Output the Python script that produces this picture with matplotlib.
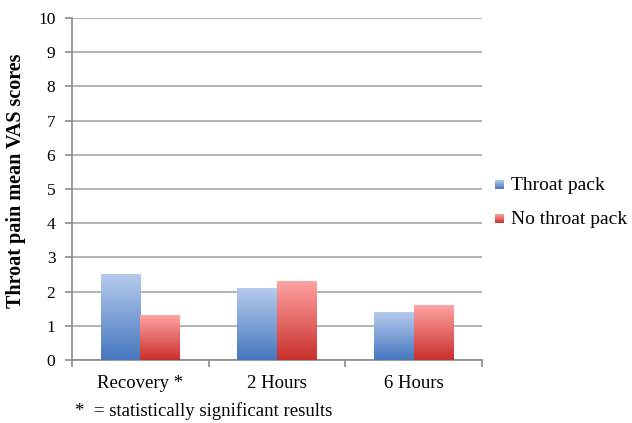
import matplotlib.pyplot as plt
import numpy as np
from matplotlib.colors import LinearSegmentedColormap

categories = ["Recovery *", "2 Hours", "6 Hours"]
throat_pack = [2.5, 2.1, 1.4]
no_throat_pack = [1.3, 2.3, 1.6]
series_labels = ["Throat pack", "No throat pack"]
yticks = list(range(0, 11))
footnote = "*  = statistically significant results"

# gradient (bottom -> top) per series
GRADS = [("#4576be", "#b6cbec"), ("#c8302a", "#ffa3a3")]

plt.rcParams["font.family"] = ["Liberation Serif", "DejaVu Serif"]

fig = plt.figure(figsize=(6.32, 4.23), dpi=100)
ax = fig.add_axes([72 / 632, 1 - 360 / 423, 410 / 632, 342 / 423])

x = np.arange(len(categories))
w = 0.29
grad = np.linspace(0, 1, 256).reshape(-1, 1)
for i, (vals, (c0, c1)) in enumerate(zip([throat_pack, no_throat_pack], GRADS)):
    cmap = LinearSegmentedColormap.from_list(f"g{i}", [c0, c1])
    bars = ax.bar(x + (i - 0.5) * w, vals, w, facecolor="none", edgecolor="none", zorder=3)
    for b in bars:
        x0, y0 = b.get_x(), b.get_y()
        ax.imshow(grad, cmap=cmap, origin="lower", aspect="auto", zorder=3,
                  extent=[x0, x0 + b.get_width(), y0, y0 + b.get_height()])

ax.set_xlim(-0.5, len(categories) - 0.5)
ax.set_ylim(0, 10)
ax.set_yticks(yticks)
ax.yaxis.grid(True, color="#a6a6a6", linewidth=1.2, zorder=0)
ax.set_axisbelow(True)
ax.set_xticks(np.arange(-0.5, len(categories)))
ax.set_xticklabels([])
ax.set_xticks(x, minor=True)
ax.set_xticklabels(categories, minor=True, fontsize=13.5)
ax.tick_params(axis="x", which="minor", length=0, pad=11)
ax.tick_params(axis="x", which="major", length=5, color="#8c8c8c", width=1.2)
ax.tick_params(axis="y", length=5, color="#8c8c8c", width=1.2, labelsize=12.5, pad=7)
for s in ["top", "right"]:
    ax.spines[s].set_visible(False)
for s in ["left", "bottom"]:
    ax.spines[s].set_color("#8c8c8c")
    ax.spines[s].set_linewidth(1.2)

ax.set_ylabel("Throat pain mean VAS scores", fontsize=14.5, fontweight="bold")
ax.yaxis.set_label_coords(-46 / 410, (360 - 181) / 342)

for i, (lab, (c0, c1)) in enumerate(zip(series_labels, GRADS)):
    yy = 1 - (185 + 34 * i) / 423
    lax = fig.add_axes([495 / 632, yy - 4.5 / 423, 9 / 632, 9 / 423])
    lax.imshow(grad, cmap=LinearSegmentedColormap.from_list(f"l{i}", [c0, c1]),
               origin="lower", aspect="auto")
    lax.axis("off")
    fig.text(511 / 632, yy, lab, fontsize=14, va="center", ha="left")

fig.text(75 / 632, 1 - 411 / 423, footnote, fontsize=13.5, va="center", ha="left")

fig.savefig("out.png", dpi=100)
